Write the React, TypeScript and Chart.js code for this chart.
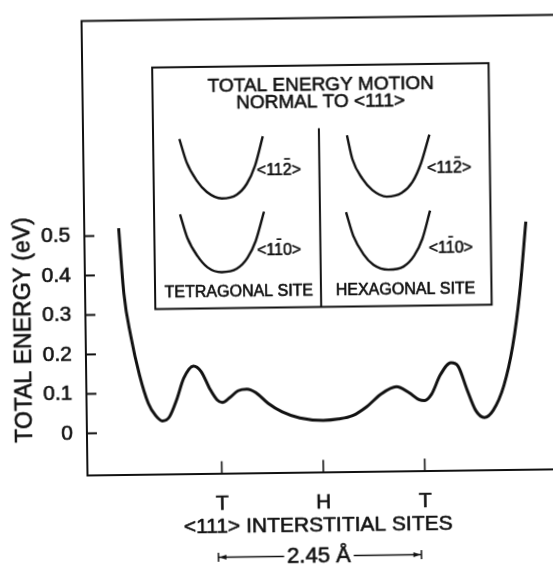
import React, { useEffect, useRef } from 'react';
import { Chart, registerables } from 'chart.js';

Chart.register(...registerables);

// Main curve: position along <111> (Å, H site at 0) and total energy (eV)
const POSITION_A = [
  -2.432, -2.379, -2.302, -2.203, -2.101, -2.016, -1.933, -1.849, -1.759, -1.671,
  -1.551, -1.459, -1.355, -1.272, -1.208, -1.122, -1.016, -0.909, -0.804, -0.655,
  -0.488, -0.276, 0.007, 0.19, 0.361, 0.532, 0.703, 0.895, 1.044, 1.17,
  1.234, 1.319, 1.428, 1.557, 1.643, 1.744, 1.849, 1.953, 2.06, 2.192,
  2.304, 2.397, 2.483,
];
const ENERGY_EV = [
  0.519, 0.353, 0.245, 0.146, 0.074, 0.043, 0.029, 0.039, 0.082, 0.136,
  0.167, 0.153, 0.108, 0.081, 0.074, 0.085, 0.103, 0.107, 0.098, 0.07,
  0.048, 0.032, 0.025, 0.028, 0.036, 0.058, 0.089, 0.108, 0.093, 0.074,
  0.072, 0.088, 0.137, 0.167, 0.158, 0.1, 0.045, 0.027, 0.045, 0.107,
  0.206, 0.34, 0.522,
];

// Inset sketches (drawn in the same data units)
const TET_112_X = [-1.685, -1.6, -1.482, -1.363, -1.183, -1.002, -0.879, -0.776, -0.678];
const TET_112_Y = [0.743, 0.683, 0.637, 0.608, 0.591, 0.6, 0.627, 0.673, 0.747];
const TET_110_X = [-1.689, -1.604, -1.486, -1.367, -1.195, -1.014, -0.883, -0.78, -0.675];
const TET_110_Y = [0.552, 0.492, 0.446, 0.417, 0.404, 0.412, 0.439, 0.482, 0.556];
const HEX_112_X = [0.338, 0.4, 0.518, 0.636, 0.808, 0.99, 1.12, 1.228, 1.333];
const HEX_112_Y = [0.747, 0.686, 0.636, 0.607, 0.59, 0.599, 0.626, 0.674, 0.746];
const HEX_110_X = [0.315, 0.4, 0.518, 0.636, 0.817, 0.998, 1.129, 1.232, 1.329];
const HEX_110_Y = [0.552, 0.491, 0.445, 0.418, 0.405, 0.412, 0.439, 0.482, 0.553];

const Y_TICKS = [0, 0.1, 0.2, 0.3, 0.4, 0.5];
const Y_TICK_LABELS = ['0', '0.1', '0.2', '0.3', '0.4', '0.5'];
const X_TICKS = [-1.225, 0, 1.225];
const X_TICK_LABELS = ['T', 'H', 'T'];

const INK = '#111111';
const FONT = '"Liberation Sans", Arial, Helvetica, sans-serif';

// inset frame in data units
const INSET = { left: -2.002, right: 2.058, top: 0.925, bottom: 0.3127, divX: 0, divTop: 0.7657 };

const toPts = (xs: number[], ys: number[]) => xs.map((x, i) => ({ x, y: ys[i] }));

function line(ctx: CanvasRenderingContext2D, x0: number, y0: number, x1: number, y1: number) {
  ctx.beginPath();
  ctx.moveTo(x0, y0);
  ctx.lineTo(x1, y1);
  ctx.stroke();
}

function text(ctx: CanvasRenderingContext2D, s: string, x: number, y: number) {
  ctx.fillText(s, x, y);
  ctx.save();
  ctx.lineWidth = 0.6;
  ctx.lineJoin = 'round';
  ctx.strokeText(s, x, y);
  ctx.restore();
}

function barText(ctx: CanvasRenderingContext2D, s: string, barIndex: number, x: number, y: number) {
  ctx.textAlign = 'left';
  ctx.textBaseline = 'middle';
  text(ctx, s, x, y);
  const x0 = x + ctx.measureText(s.slice(0, barIndex)).width;
  const x1 = x + ctx.measureText(s.slice(0, barIndex + 1)).width;
  ctx.lineWidth = 1.6;
  line(ctx, x0 + 1.5, y - 11.5, x1 - 1.5, y - 11.5);
}

const decor = {
  id: 'decor',
  afterDraw(chart: any) {
    const { ctx, chartArea: a, scales } = chart;
    const xs = scales.x;
    const ys = scales.y;
    const px = (v: number) => xs.getPixelForValue(v);
    const py = (v: number) => ys.getPixelForValue(v);
    ctx.save();
    ctx.strokeStyle = INK;
    ctx.fillStyle = INK;
    ctx.lineCap = 'butt';

    // top frame line
    ctx.lineWidth = 2;
    line(ctx, a.left - 1, a.top, a.right, a.top);

    // inward ticks
    Y_TICKS.forEach((v) => line(ctx, a.left, py(v), a.left + 10, py(v)));
    ctx.lineWidth = 1.6;
    X_TICKS.forEach((v) => line(ctx, px(v), a.bottom, px(v), a.bottom - 12));

    // inset frame
    ctx.lineWidth = 2;
    const l = px(INSET.left), r = px(INSET.right), t = py(INSET.top), b = py(INSET.bottom);
    ctx.strokeRect(l, t, r - l, b - t);
    line(ctx, px(INSET.divX), py(INSET.divTop), px(INSET.divX), b);

    // inset text
    ctx.textAlign = 'center';
    ctx.textBaseline = 'middle';
    ctx.font = `19px ${FONT}`;
    text(ctx, 'TOTAL ENERGY MOTION', px(0.031), py(0.8736));
    text(ctx, 'NORMAL TO <111>', px(0.025), py(0.8321));
    ctx.font = `16px ${FONT}`;
    text(ctx, 'TETRAGONAL SITE', px(-0.991), py(0.354));
    text(ctx, 'HEXAGONAL SITE', px(1.021), py(0.3525));
    barText(ctx, '<112>', 3, px(-0.7555), py(0.66));
    barText(ctx, '<110>', 2, px(-0.765), py(0.4567));
    barText(ctx, '<112>', 3, px(1.3), py(0.6587));
    barText(ctx, '<110>', 2, px(1.307), py(0.4572));

    // y-axis title
    ctx.save();
    ctx.translate(23.4, 326.7);
    ctx.rotate(-Math.PI / 2);
    ctx.font = `23px ${FONT}`;
    ctx.textAlign = 'center';
    ctx.textBaseline = 'middle';
    text(ctx, 'TOTAL ENERGY (eV)', 0, 0);
    ctx.restore();

    // x-axis title
    ctx.font = `21px ${FONT}`;
    ctx.textAlign = 'center';
    ctx.textBaseline = 'middle';
    text(ctx, '<111> INTERSTITIAL SITES', px(0) - 5.8, 526);

    // dimension line 2.45 Å between the T sites
    ctx.font = `22px ${FONT}`;
    const label = '2.45 Å';
    const cx = px(0) - 5.5;
    const ay = 556.5;
    const w = ctx.measureText(label).width;
    text(ctx, label, cx, 557.3);
    const xl = px(-1.225) - 4.5;
    const xr = px(1.225) - 4.5;
    ctx.lineWidth = 1.5;
    line(ctx, xl, ay, cx - w / 2 - 3, ay);
    line(ctx, cx + w / 2 + 3, ay, xr, ay);
    line(ctx, xl, ay - 4.5, xl, ay + 4.5);
    line(ctx, xr, ay - 4.5, xr, ay + 4.5);
    ctx.beginPath();
    ctx.moveTo(xl + 1, ay);
    ctx.lineTo(xl + 8, ay - 2.5);
    ctx.lineTo(xl + 8, ay + 2.5);
    ctx.closePath();
    ctx.fill();
    ctx.beginPath();
    ctx.moveTo(xr - 1, ay);
    ctx.lineTo(xr - 8, ay - 2.5);
    ctx.lineTo(xr - 8, ay + 2.5);
    ctx.closePath();
    ctx.fill();

    ctx.restore();
  },
};

export default function App() {
  const ref = useRef<HTMLCanvasElement>(null);

  useEffect(() => {
    const curve = (data: { x: number; y: number }[], width: number) => ({
      data,
      borderColor: INK,
      borderWidth: width,
      pointRadius: 0,
      fill: false,
      cubicInterpolationMode: 'monotone' as const,
    });
    const chart = new Chart(ref.current!, {
      type: 'line',
      data: {
        datasets: [
          curve(toPts(POSITION_A, ENERGY_EV), 3),
          curve(toPts(TET_112_X, TET_112_Y), 2.4),
          curve(toPts(TET_110_X, TET_110_Y), 2.4),
          curve(toPts(HEX_112_X, HEX_112_Y), 2.4),
          curve(toPts(HEX_110_X, HEX_110_Y), 2.4),
        ],
      },
      options: {
        animation: false,
        responsive: false,
        devicePixelRatio: 1,
        events: [],
        layout: { padding: { top: 10, right: 0, left: 0, bottom: 0 } },
        plugins: { legend: { display: false }, tooltip: { enabled: false }, title: { display: false } },
        scales: {
          x: {
            type: 'linear',
            min: -2.847,
            max: 2.922,
            afterBuildTicks: (s: any) => {
              s.ticks = X_TICKS.map((value) => ({ value }));
            },
            afterFit: (s: any) => {
              s.height = 95.5;
            },
            ticks: {
              autoSkip: false,
              maxRotation: 0,
              padding: 10,
              color: INK,
              textStrokeColor: INK,
              textStrokeWidth: 0.6,
              font: { family: FONT, size: 21 },
              callback: (_v: any, i: number) => X_TICK_LABELS[i],
            },
            grid: { display: false },
            border: { display: true, width: 2, color: INK },
          },
          y: {
            type: 'linear',
            min: -0.1055,
            max: 1.045,
            afterBuildTicks: (s: any) => {
              s.ticks = Y_TICKS.map((value) => ({ value }));
            },
            afterFit: (s: any) => {
              s.width = 85;
            },
            ticks: {
              autoSkip: false,
              padding: 6,
              color: INK,
              textStrokeColor: INK,
              textStrokeWidth: 0.6,
              font: { family: FONT, size: 21 },
              callback: (_v: any, i: number) => Y_TICK_LABELS[i],
            },
            grid: { display: false },
            border: { display: true, width: 2, color: INK },
          },
        },
      },
      plugins: [decor],
    } as any);
    return () => chart.destroy();
  }, []);

  return (
    <div
      style={{
        position: 'fixed',
        left: 0,
        top: 0,
        width: 553,
        height: 568,
        overflow: 'hidden',
        background: '#ffffff',
      }}
    >
      <div
        style={{
          position: 'absolute',
          left: 0,
          top: 0,
          width: 563,
          height: 568,
          transform: 'rotate(-0.75deg)',
          transformOrigin: '276.5px 284px',
        }}
      >
        <canvas ref={ref} width={563} height={568} style={{ display: 'block' }} />
      </div>
    </div>
  );
}
